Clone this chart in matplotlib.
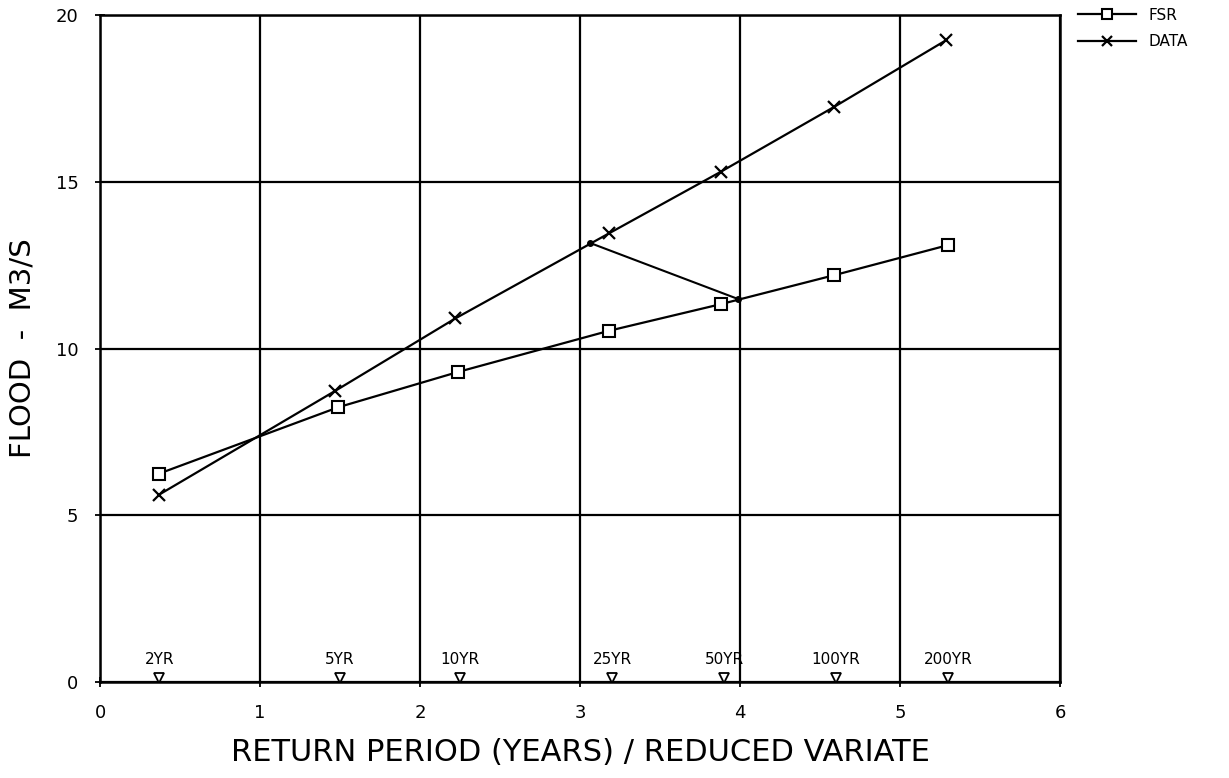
import matplotlib.pyplot as plt

# reduced variate positions (x) and flood values
fsr_x = [0.37, 1.49, 2.24, 3.18, 3.88, 4.59, 5.30]
fsr_y = [6.25, 8.24, 9.30, 10.53, 11.33, 12.20, 13.10]

data_x = [0.37, 1.47, 2.22, 3.18, 3.88, 4.59, 5.29]
data_y = [5.62, 8.73, 10.90, 13.45, 15.30, 17.25, 19.25]

# short connecting segment with filled end points
link_x = [3.06, 3.99]
link_y = [13.17, 11.48]

# return period markers along the bottom
rp_labels = ['2YR', '5YR', '10YR', '25YR', '50YR', '100YR', '200YR']
rp_x = [0.37, 1.50, 2.25, 3.20, 3.90, 4.60, 5.30]
rp_mark_y = 0.12
rp_text_y = 0.45

fig = plt.figure(figsize=(12.29, 7.78), dpi=100)
ax = fig.add_axes([0.0814, 0.1234, 0.7811, 0.8573])

ax.plot(fsr_x, fsr_y, color='k', lw=1.6, marker='s', ms=9, mfc='white',
        mec='k', mew=1.5, label='FSR', zorder=3)
ax.plot(data_x, data_y, color='k', lw=1.6, marker='x', ms=8, mew=1.6,
        label='DATA', zorder=3)
ax.plot(link_x, link_y, color='k', lw=1.5, marker='o', ms=4, zorder=3)

ax.plot(rp_x, [rp_mark_y] * len(rp_x), ls='none', marker='v', ms=7,
        mfc='white', mec='k', mew=1.3, zorder=3)
for lab, xx in zip(rp_labels, rp_x):
    ax.text(xx, rp_text_y, lab, ha='center', va='bottom', fontsize=11)

ax.set_xlim(0, 6)
ax.set_ylim(0, 20)
ax.set_xticks([0, 1, 2, 3, 4, 5, 6])
ax.set_yticks([0, 5, 10, 15, 20])
ax.grid(True, color='k', lw=1.6)
for s in ax.spines.values():
    s.set_linewidth(1.8)
ax.tick_params(direction='inout', length=7, width=1.3, labelsize=13, pad=12)

ax.set_xlabel('RETURN PERIOD (YEARS) / REDUCED VARIATE', fontsize=22,
              labelpad=12)
ax.set_ylabel('FLOOD  -  M3/S', fontsize=21, labelpad=14)

fig.legend(loc='upper left', bbox_to_anchor=(0.866, 1.008), frameon=False,
           fontsize=11, handlelength=3.8, labelspacing=0.75, markerscale=0.85)

plt.savefig('out.png', dpi=100)
